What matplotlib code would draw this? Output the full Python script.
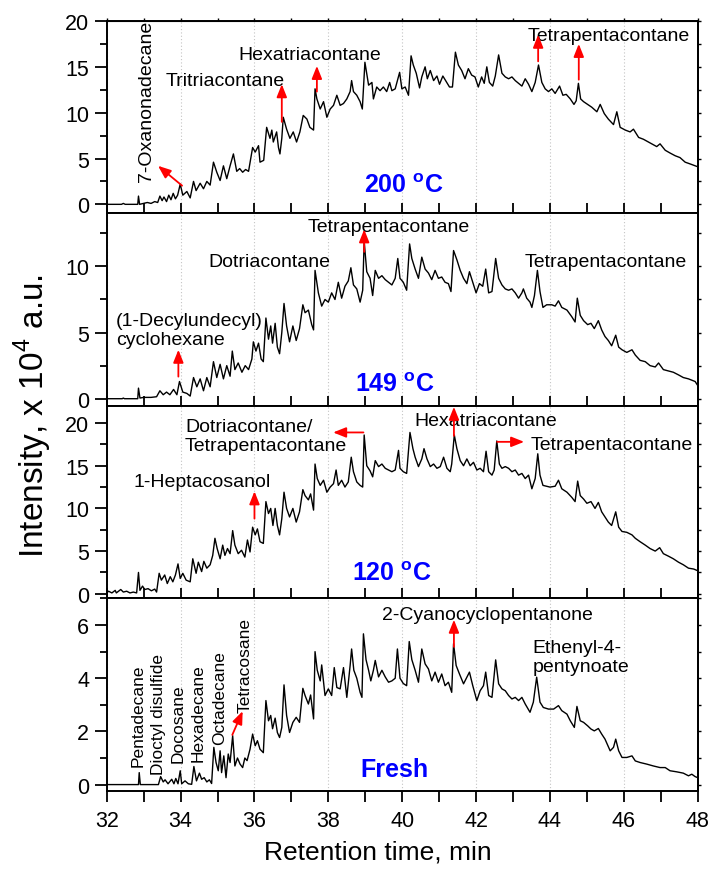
import numpy as np
import matplotlib
matplotlib.use('Agg')
import matplotlib.pyplot as plt
from matplotlib.ticker import MultipleLocator, NullFormatter

plt.rcParams['font.family'] = ['Liberation Sans', 'DejaVu Sans']
plt.rcParams['mathtext.fontset'] = 'custom'
plt.rcParams['mathtext.rm'] = 'Liberation Sans'
plt.rcParams['mathtext.bf'] = 'Liberation Sans:bold'

# chromatogram vertices (retention time in min, intensity in 10^4 a.u.)
trace_200 = [
    (32.0, 0), (32.4, 0), (32.45, 0.1), (32.5, 0), (32.84, 0), (32.86, 0.9), (32.89, 0), (33.0, 0.1),
    (33.1, 0.2), (33.2, 0.1), (33.3, 0.3), (33.38, 0.2), (33.44, 0.9), (33.5, 0.4), (33.55, 0.8),
    (33.62, 0.3), (33.68, 1.0), (33.74, 0.5), (33.8, 1.2), (33.86, 0.6), (33.92, 1.0), (33.99, 2.2),
    (34.06, 1.0), (34.17, 1.4), (34.26, 0.7), (34.35, 2.5), (34.42, 1.5), (34.53, 2.3), (34.62, 1.7),
    (34.71, 2.5), (34.8, 2.1), (34.89, 4.6), (34.98, 3.5), (35.07, 2.6), (35.16, 4.2), (35.25, 2.8),
    (35.34, 4.2), (35.43, 5.5), (35.52, 3.6), (35.6, 3.9), (35.68, 3.5), (35.76, 3.8), (35.84, 3.6),
    (35.9, 5.0), (35.95, 6.2), (36.02, 5.7), (36.11, 6.4), (36.15, 4.6), (36.25, 4.8), (36.33, 8.4),
    (36.42, 7.2), (36.47, 8.1), (36.51, 6.8), (36.6, 7.9), (36.65, 6.2), (36.69, 5.5), (36.74, 7.2),
    (36.78, 9.5), (36.87, 8.2), (36.96, 7.2), (37.05, 7.9), (37.14, 6.8), (37.23, 7.9), (37.32, 9.7),
    (37.42, 9.3), (37.5, 8.4), (37.6, 8.1), (37.64, 12.6), (37.69, 11.5), (37.78, 10.4), (37.87, 11.2),
    (37.96, 9.5), (38.05, 10.4), (38.14, 10.8), (38.23, 11.9), (38.32, 10.8), (38.41, 11.0),
    (38.5, 11.5), (38.59, 12.3), (38.63, 13.5), (38.68, 12.3), (38.77, 11.9), (38.86, 11.2),
    (38.92, 10.4), (38.99, 15.5), (39.09, 13.0), (39.18, 13.3), (39.22, 11.5), (39.31, 12.8),
    (39.4, 12.4), (39.49, 12.8), (39.58, 12.3), (39.66, 13.3), (39.72, 12.4), (39.81, 12.6),
    (39.93, 14.4), (39.99, 12.6), (40.08, 12.8), (40.17, 11.9), (40.24, 16.2), (40.3, 15.2),
    (40.38, 14.3), (40.47, 12.7), (40.53, 13.9), (40.62, 15.0), (40.68, 13.7), (40.76, 14.6),
    (40.85, 13.5), (40.94, 14.0), (41.01, 13.1), (41.1, 14.0), (41.19, 13.4), (41.28, 12.8),
    (41.36, 12.8), (41.44, 16.6), (41.52, 15.2), (41.61, 14.6), (41.7, 13.7), (41.79, 14.8),
    (41.88, 14.1), (41.97, 13.9), (42.06, 12.8), (42.15, 13.9), (42.22, 13.2), (42.29, 15.0),
    (42.36, 13.3), (42.45, 12.9), (42.52, 14.0), (42.61, 16.3), (42.7, 14.3), (42.79, 13.9),
    (42.88, 13.7), (42.97, 13.9), (43.06, 13.5), (43.15, 13.2), (43.24, 12.9), (43.33, 13.7),
    (43.42, 13.1), (43.51, 12.3), (43.6, 13.3), (43.69, 15.2), (43.78, 13.3), (43.87, 12.6),
    (43.96, 12.3), (44.05, 12.6), (44.14, 12.1), (44.26, 12.9), (44.35, 11.9), (44.44, 12.0),
    (44.55, 11.5), (44.65, 10.9), (44.71, 11.3), (44.77, 13.2), (44.83, 11.5), (44.91, 11.2),
    (45.02, 10.9), (45.13, 10.6), (45.27, 10.1), (45.36, 10.9), (45.47, 9.9), (45.58, 9.3),
    (45.72, 8.7), (45.81, 10.1), (45.9, 8.4), (46.04, 8.1), (46.17, 7.9), (46.26, 8.2), (46.4, 7.3),
    (46.53, 7.1), (46.71, 6.7), (46.89, 6.3), (46.98, 6.6), (47.12, 5.9), (47.25, 5.6), (47.39, 5.3),
    (47.52, 5.1), (47.66, 4.6), (47.8, 4.4), (48.0, 4.1),
]

trace_149 = [
    (32.0, 0), (32.42, 0), (32.45, 0.05), (32.48, 0), (32.84, 0), (32.86, 0.8), (32.9, 0.05),
    (33.0, 0.1), (33.2, 0.1), (33.35, 0.15), (33.44, 0.6), (33.53, 0.3), (33.62, 0.5), (33.71, 0.3),
    (33.81, 0.7), (33.9, 0.3), (33.97, 1.3), (34.06, 0.5), (34.17, 0.4), (34.26, 0.2), (34.35, 1.6),
    (34.44, 0.9), (34.53, 1.5), (34.62, 0.6), (34.71, 1.6), (34.8, 0.9), (34.89, 2.8), (34.98, 1.6),
    (35.07, 2.6), (35.16, 1.5), (35.25, 2.5), (35.34, 1.7), (35.4, 3.6), (35.47, 2.2), (35.56, 2.7),
    (35.66, 2.0), (35.75, 2.5), (35.84, 2.2), (35.93, 3.0), (35.97, 4.3), (36.04, 3.6), (36.11, 4.2),
    (36.18, 3.0), (36.24, 2.8), (36.31, 6.1), (36.38, 4.5), (36.44, 5.5), (36.49, 4.2), (36.56, 5.7),
    (36.62, 3.9), (36.68, 3.4), (36.74, 5.0), (36.8, 7.2), (36.87, 5.5), (36.95, 4.3), (37.04, 5.5),
    (37.13, 4.4), (37.22, 5.3), (37.31, 7.1), (37.37, 6.5), (37.46, 6.7), (37.55, 5.6), (37.6, 5.2),
    (37.64, 9.7), (37.73, 8.0), (37.82, 7.0), (37.91, 7.5), (38.0, 7.3), (38.09, 8.0), (38.18, 7.5),
    (38.27, 8.8), (38.36, 7.6), (38.45, 8.5), (38.54, 8.9), (38.61, 9.9), (38.68, 8.6), (38.77, 8.3),
    (38.86, 7.3), (38.93, 8.2), (38.97, 11.9), (39.04, 9.6), (39.13, 9.1), (39.2, 7.8), (39.27, 9.7),
    (39.36, 9.1), (39.45, 9.3), (39.54, 9.0), (39.63, 8.8), (39.72, 8.6), (39.81, 9.1), (39.88, 10.6),
    (39.94, 9.1), (40.03, 8.8), (40.12, 8.2), (40.2, 11.7), (40.26, 10.6), (40.35, 9.8), (40.44, 9.1),
    (40.53, 10.7), (40.62, 9.8), (40.71, 9.5), (40.8, 9.0), (40.89, 9.7), (40.98, 9.1), (41.07, 9.2),
    (41.16, 8.8), (41.25, 8.7), (41.32, 8.1), (41.39, 11.2), (41.48, 10.5), (41.57, 9.7), (41.66, 9.1),
    (41.75, 8.7), (41.82, 9.6), (41.91, 8.8), (42.0, 8.0), (42.09, 8.7), (42.18, 8.5), (42.26, 9.8),
    (42.34, 8.0), (42.43, 8.1), (42.53, 10.6), (42.61, 9.1), (42.7, 8.6), (42.79, 8.3), (42.88, 8.2),
    (42.97, 8.3), (43.06, 8.0), (43.15, 7.6), (43.24, 8.0), (43.28, 8.3), (43.37, 7.6), (43.46, 7.3),
    (43.51, 6.9), (43.58, 7.8), (43.66, 9.7), (43.73, 8.1), (43.81, 6.9), (43.91, 7.1), (44.05, 7.1),
    (44.14, 7.0), (44.23, 7.4), (44.32, 6.9), (44.46, 6.7), (44.59, 6.2), (44.68, 5.8), (44.74, 7.6),
    (44.82, 6.3), (44.91, 5.9), (45.02, 5.6), (45.11, 5.7), (45.2, 5.3), (45.31, 5.9), (45.4, 5.2),
    (45.49, 4.7), (45.58, 4.4), (45.67, 4.0), (45.78, 4.8), (45.86, 3.9), (45.95, 3.7), (46.08, 3.5),
    (46.22, 3.7), (46.31, 3.3), (46.44, 2.9), (46.58, 2.8), (46.71, 2.5), (46.85, 2.4), (46.94, 2.7),
    (47.07, 2.2), (47.21, 2.1), (47.34, 2.0), (47.48, 1.8), (47.61, 1.6), (47.75, 1.5), (47.84, 1.4),
    (47.93, 1.3), (48.0, 1.0),
]

trace_120 = [
    (32.0, 0.1), (32.05, 0.3), (32.14, 0.1), (32.23, 0.4), (32.26, 0.1), (32.38, 0.5), (32.45, 0.2),
    (32.54, 0.3), (32.63, 0.1), (32.72, 0.2), (32.81, 0.1), (32.86, 2.5), (32.9, 0.4), (32.97, 0.9),
    (33.03, 0.5), (33.12, 0.6), (33.21, 0.35), (33.3, 0.55), (33.35, 0.2), (33.42, 2.4), (33.48, 1.6),
    (33.57, 2.2), (33.64, 1.2), (33.72, 2.0), (33.79, 1.4), (33.86, 2.2), (33.93, 3.5), (33.99, 1.8),
    (34.06, 2.4), (34.15, 1.6), (34.26, 1.4), (34.33, 4.1), (34.42, 2.4), (34.48, 3.7), (34.57, 2.6),
    (34.63, 3.8), (34.71, 3.0), (34.8, 3.4), (34.87, 4.5), (34.93, 6.5), (34.99, 5.3), (35.07, 4.1),
    (35.14, 5.7), (35.2, 4.5), (35.27, 5.3), (35.34, 4.7), (35.41, 7.4), (35.47, 5.7), (35.56, 4.7),
    (35.65, 5.1), (35.74, 4.3), (35.81, 6.3), (35.88, 4.9), (35.95, 7.8), (36.02, 6.9), (36.08, 7.6),
    (36.15, 6.1), (36.24, 5.9), (36.31, 10.8), (36.38, 9.4), (36.44, 10.0), (36.5, 8.0), (36.56, 10.0),
    (36.62, 8.0), (36.68, 6.9), (36.74, 8.8), (36.8, 11.9), (36.87, 10.0), (36.95, 9.0), (37.04, 10.0),
    (37.13, 8.4), (37.22, 9.6), (37.31, 12.2), (37.37, 11.5), (37.46, 11.0), (37.52, 11.7), (37.6, 9.8),
    (37.64, 15.2), (37.7, 13.5), (37.78, 12.7), (37.87, 13.3), (37.96, 11.9), (38.05, 12.5),
    (38.14, 12.9), (38.21, 14.5), (38.27, 12.7), (38.36, 13.3), (38.45, 12.5), (38.54, 13.1),
    (38.62, 16.0), (38.68, 14.3), (38.77, 13.1), (38.86, 12.7), (38.93, 12.5), (38.97, 18.6),
    (39.04, 15.0), (39.13, 14.4), (39.2, 13.7), (39.27, 15.6), (39.36, 14.9), (39.45, 15.2),
    (39.54, 14.7), (39.63, 14.5), (39.72, 14.3), (39.81, 14.5), (39.9, 16.8), (39.94, 14.7),
    (40.03, 14.3), (40.12, 14.1), (40.21, 18.9), (40.29, 17.0), (40.35, 16.0), (40.44, 14.9),
    (40.53, 15.8), (40.59, 17.0), (40.67, 15.8), (40.76, 14.9), (40.85, 15.2), (40.94, 14.7),
    (41.03, 14.9), (41.12, 16.0), (41.21, 14.7), (41.3, 14.3), (41.34, 15.2), (41.41, 18.6),
    (41.48, 17.0), (41.57, 15.6), (41.66, 15.0), (41.75, 15.8), (41.84, 15.0), (41.93, 15.4),
    (42.02, 14.5), (42.11, 14.7), (42.2, 14.3), (42.27, 16.7), (42.34, 14.3), (42.43, 13.9),
    (42.49, 14.5), (42.56, 17.9), (42.63, 15.2), (42.7, 14.7), (42.79, 14.9), (42.88, 14.7),
    (42.97, 14.3), (43.06, 14.5), (43.15, 13.9), (43.24, 14.1), (43.33, 13.5), (43.42, 13.9),
    (43.51, 12.3), (43.6, 13.5), (43.67, 16.4), (43.73, 13.9), (43.81, 12.7), (43.91, 12.6),
    (44.0, 12.5), (44.14, 12.6), (44.23, 13.3), (44.32, 12.3), (44.46, 11.9), (44.59, 11.3),
    (44.68, 10.8), (44.75, 13.2), (44.82, 11.5), (44.91, 11.1), (45.0, 10.6), (45.11, 10.8),
    (45.22, 10.0), (45.31, 10.7), (45.4, 9.6), (45.49, 9.0), (45.58, 8.4), (45.67, 8.0), (45.78, 9.6),
    (45.86, 7.8), (45.95, 7.3), (46.08, 7.2), (46.22, 6.9), (46.31, 6.5), (46.44, 6.1), (46.58, 5.7),
    (46.71, 5.3), (46.85, 5.0), (46.97, 5.4), (47.07, 4.7), (47.21, 4.4), (47.34, 4.1), (47.48, 3.7),
    (47.61, 3.4), (47.75, 3.0), (47.89, 2.9), (48.0, 2.7),
]

trace_fresh = [
    (32.0, 0), (32.86, 0), (32.88, 0.45), (32.91, 0), (33.4, 0), (33.46, 0.3), (33.53, 0.1),
    (33.58, 0.18), (33.66, 0.03), (33.76, 0.2), (33.82, 0.03), (33.87, 0.23), (33.93, 0.03),
    (33.99, 0.52), (34.03, 0.03), (34.12, 0.14), (34.21, 0.03), (34.3, 0.01), (34.36, 0.68),
    (34.43, 0.14), (34.51, 0.43), (34.57, 0.2), (34.64, 0.26), (34.71, 0.1), (34.78, 0.18),
    (34.84, 0.04), (34.9, 1.4), (34.96, 0.83), (35.02, 0.52), (35.07, 1.27), (35.11, 0.45),
    (35.17, 1.08), (35.23, 0.26), (35.29, 1.15), (35.34, 0.83), (35.41, 1.84), (35.47, 0.7),
    (35.54, 1.0), (35.61, 0.77), (35.68, 0.64), (35.74, 1.0), (35.8, 0.9), (35.88, 1.33), (35.95, 1.9),
    (36.02, 1.46), (36.08, 1.65), (36.15, 1.33), (36.24, 1.2), (36.31, 3.16), (36.38, 2.4),
    (36.44, 2.6), (36.49, 2.1), (36.56, 2.5), (36.62, 1.96), (36.68, 1.77), (36.74, 2.15),
    (36.8, 3.75), (36.87, 2.6), (36.95, 1.96), (37.04, 2.34), (37.13, 2.53), (37.22, 2.34),
    (37.31, 3.62), (37.37, 3.35), (37.46, 3.03), (37.52, 3.37), (37.6, 2.47), (37.64, 5.0), (37.7, 4.3),
    (37.78, 3.9), (37.82, 4.5), (37.91, 3.35), (38.0, 3.6), (38.09, 3.35), (38.16, 4.4), (38.23, 3.65),
    (38.32, 3.6), (38.41, 4.4), (38.5, 3.28), (38.59, 4.48), (38.63, 5.1), (38.69, 4.3), (38.77, 4.0),
    (38.86, 3.47), (38.91, 3.28), (38.95, 5.67), (39.02, 4.7), (39.09, 4.3), (39.15, 3.9), (39.22, 4.3),
    (39.27, 4.67), (39.36, 4.05), (39.45, 4.3), (39.54, 4.05), (39.63, 3.85), (39.72, 3.9),
    (39.81, 4.0), (39.87, 5.1), (39.94, 4.0), (40.03, 3.8), (40.12, 3.72), (40.19, 5.38), (40.26, 4.7),
    (40.35, 4.3), (40.44, 3.85), (40.53, 5.1), (40.62, 4.54), (40.71, 4.35), (40.8, 3.9),
    (40.89, 4.23), (40.98, 3.85), (41.07, 4.16), (41.16, 3.72), (41.25, 3.85), (41.34, 3.47),
    (41.39, 5.3), (41.46, 4.48), (41.55, 4.16), (41.66, 3.79), (41.73, 3.98), (41.82, 4.23),
    (41.91, 3.72), (42.02, 3.16), (42.11, 3.53), (42.2, 3.72), (42.26, 4.23), (42.34, 3.35),
    (42.43, 3.28), (42.53, 4.69), (42.61, 3.79), (42.7, 3.6), (42.79, 3.53), (42.88, 3.35),
    (42.97, 3.22), (43.06, 3.28), (43.15, 3.16), (43.24, 3.28), (43.33, 3.03), (43.46, 2.72),
    (43.55, 3.1), (43.64, 4.04), (43.73, 3.1), (43.82, 2.9), (43.96, 2.84), (44.1, 2.84),
    (44.23, 2.97), (44.32, 2.78), (44.46, 2.65), (44.55, 2.4), (44.66, 2.15), (44.73, 2.94),
    (44.82, 2.4), (44.91, 2.34), (45.02, 2.21), (45.11, 2.09), (45.2, 2.02), (45.31, 2.11), (45.4, 1.9),
    (45.49, 1.71), (45.63, 1.27), (45.72, 1.4), (45.78, 1.71), (45.86, 1.27), (45.95, 1.02),
    (46.08, 1.02), (46.22, 1.08), (46.31, 0.89), (46.44, 0.83), (46.62, 0.77), (46.8, 0.7),
    (46.98, 0.64), (47.12, 0.64), (47.25, 0.52), (47.43, 0.48), (47.61, 0.43), (47.75, 0.33),
    (47.84, 0.39), (47.93, 0.3), (48.0, 0.26),
]

panel_traces = [trace_200, trace_149, trace_120, trace_fresh]
panel_titles = [r'200 $^{\mathbf{o}}$C', r'149 $^{\mathbf{o}}$C', r'120 $^{\mathbf{o}}$C', 'Fresh']
panel_ylims = [(-1.0, 20), (-0.55, 14), (-0.55, 22), (-0.24, 7)]
panel_major = [5, 5, 5, 2]
panel_minor = [2.5, 2.5, 2.5, 1]

# (text, x, y, rotation, size, ha)
labels_200 = [('7-Oxanonadecane', 33.07, 2.6, 90, 14, 'center'),
              ('Tritriacontane', 35.2, 13.5, 0, 14, 'center'),
              ('Hexatriacontane', 37.5, 16.4, 0, 14, 'center'),
              ('Tetrapentacontane', 45.6, 18.4, 0, 14, 'center')]
labels_149 = [('(1-Decylundecyl)\ncyclohexane', 32.25, 5.2, 0, 14, 'left'),
              ('Dotriacontane', 36.4, 10.4, 0, 14, 'center'),
              ('Tetrapentacontane', 39.63, 13.0, 0, 14, 'center'),
              ('Tetrapentacontane', 45.5, 10.4, 0, 14, 'center')]
labels_120 = [('1-Heptacosanol', 34.58, 13.2, 0, 14, 'center'),
              ('Dotriacontane/\nTetrapentacontane', 34.12, 18.5, 0, 14, 'left'),
              ('Hexatriacontane', 42.27, 20.3, 0, 14, 'center'),
              ('Tetrapentacontane', 45.66, 17.5, 0, 14, 'center')]
labels_fresh = [('Pentadecane', 32.86, 0.69, 90, 12.5, 'center'),
                ('Dioctyl disulfide', 33.39, 0.39, 90, 12.5, 'center'),
                ('Docosane', 33.93, 0.84, 90, 12.5, 'center'),
                ('Hexadecane', 34.47, 0.88, 90, 12.5, 'center'),
                ('Octadecane', 35.07, 1.52, 90, 12.5, 'center'),
                ('Tetracosane', 35.76, 2.73, 90, 12.5, 'center'),
                ('2-Cyanocyclopentanone', 42.3, 6.39, 0, 14, 'center'),
                ('Ethenyl-4-\npentynoate', 43.52, 4.8, 0, 14, 'left')]
panel_labels = [labels_200, labels_149, labels_120, labels_fresh]

# arrows: (tail x, tail y, head x, head y)
arrows_200 = [(34.04, 2.04, 33.39, 4.2), (36.74, 9.0, 36.74, 13.1), (37.69, 12.3, 37.69, 15.1),
              (43.68, 15.6, 43.68, 18.5), (44.78, 13.6, 44.78, 17.5)]
arrows_149 = [(33.94, 1.67, 33.94, 3.7), (38.97, 11.1, 38.97, 12.8)]
arrows_120 = [(36.0, 8.8, 36.0, 12.0), (38.95, 18.9, 38.13, 18.9), (41.4, 18.5, 41.4, 21.9),
              (42.57, 17.8, 43.3, 17.8)]
arrows_fresh = [(35.40, 1.87, 35.68, 2.76), (41.4, 5.18, 41.4, 6.2)]
panel_arrows = [arrows_200, arrows_149, arrows_120, arrows_fresh]
title_pos = [(40.03, 2.1), (39.8, 1.1), (39.73, 2.4), (39.78, 0.58)]


fig, axes = plt.subplots(4, 1, figsize=(7.1, 8.7), dpi=100, sharex=True,
                         gridspec_kw=dict(hspace=0))
fig.subplots_adjust(left=0.1503, right=0.9827, top=0.9747, bottom=0.0897)

for i, ax in enumerate(axes):
    t, v = np.array(panel_traces[i]).T
    ax.plot(t, v, color='black', lw=1.0)
    ax.set_xlim(32, 48)
    ax.set_ylim(*panel_ylims[i])
    ax.xaxis.set_major_locator(MultipleLocator(2))
    ax.xaxis.set_minor_locator(MultipleLocator(1))
    ax.yaxis.set_major_locator(MultipleLocator(panel_major[i]))
    ax.yaxis.set_minor_locator(MultipleLocator(panel_minor[i]))
    ax.grid(axis='x', which='major', ls=(0, (1, 2)), color='#c4c4c4', lw=0.8)
    for s in ax.spines.values():
        s.set_linewidth(1.4)

    ax.tick_params(axis='y', which='major', direction='out', length=8.5, width=1.3,
                   labelsize=15.5, pad=4)
    ax.tick_params(axis='y', which='minor', direction='out', length=5, width=1.3)
    if i < 3:
        ax.tick_params(axis='x', which='both', direction='in', length=7, width=1.3)
    else:
        ax.tick_params(axis='x', which='both', direction='out', length=8, width=1.3,
                       labelsize=15.5, pad=6)

    # short ticks on the right edge
    sec = ax.secondary_yaxis('right')
    sec.yaxis.set_major_locator(MultipleLocator(panel_minor[i]))
    sec.yaxis.set_major_formatter(NullFormatter())
    sec.tick_params(direction='out', length=2.5, width=1.0)
    sec.spines['right'].set_linewidth(1.4)

    for txt, x, y, rot, size, ha in panel_labels[i]:
        ax.text(x, y, txt, rotation=rot, fontsize=size, ha=ha,
                va='bottom' if rot else 'center', linespacing=1.1)
    for x0, y0, x1, y1 in panel_arrows[i]:
        ax.annotate('', xy=(x1, y1), xytext=(x0, y0),
                    arrowprops=dict(arrowstyle='-|>,head_length=0.55,head_width=0.22',
                                    color='#ff0000', lw=1.3, mutation_scale=14,
                                    shrinkA=0, shrinkB=0))
    ax.text(*title_pos[i], panel_titles[i], color='#0000ff', fontsize=18,
            fontweight='bold', ha='center', va='center')

top = axes[0].secondary_xaxis('top')
top.xaxis.set_major_locator(MultipleLocator(1))
top.xaxis.set_major_formatter(NullFormatter())
top.tick_params(direction='out', length=2.5, width=1.0)

fig.text(0.046, 0.522, 'Intensity, x 10$^4$ a.u.', rotation=90, fontsize=24,
         ha='center', va='center')
fig.text(0.532, 0.02, 'Retention time, min', fontsize=19, ha='center', va='center')

fig.savefig('out.png', dpi=100)
